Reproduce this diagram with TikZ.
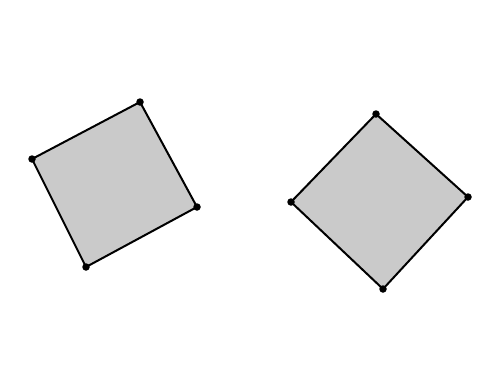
\documentclass[tikz,border=0pt]{standalone}
\begin{document}
\begin{tikzpicture}[x=1pt,y=-1pt,
  vtx/.style={circle,fill=black,inner sep=0pt,minimum size=7.5pt},
  face/.style={fill={rgb,255:red,202;green,202;blue,202},draw=black,line width=2pt,line join=round}]
\useasboundingbox (0,0) rectangle (478,367);
% left square
\coordinate (a1) at (32,159);
\coordinate (a2) at (140,102);
\coordinate (a3) at (197,207);
\coordinate (a4) at (86,267);
\draw[face] (a1) -- (a2) -- (a3) -- (a4) -- cycle;
% right square
\coordinate (b1) at (376,114);
\coordinate (b2) at (468,197);
\coordinate (b3) at (383,289);
\coordinate (b4) at (291,202);
\draw[face] (b1) -- (b2) -- (b3) -- (b4) -- cycle;
\foreach \p in {a1,a2,a3,a4,b1,b2,b3,b4}
  \node[vtx] (n\p) at (\p) {};
\end{tikzpicture}
\end{document}
